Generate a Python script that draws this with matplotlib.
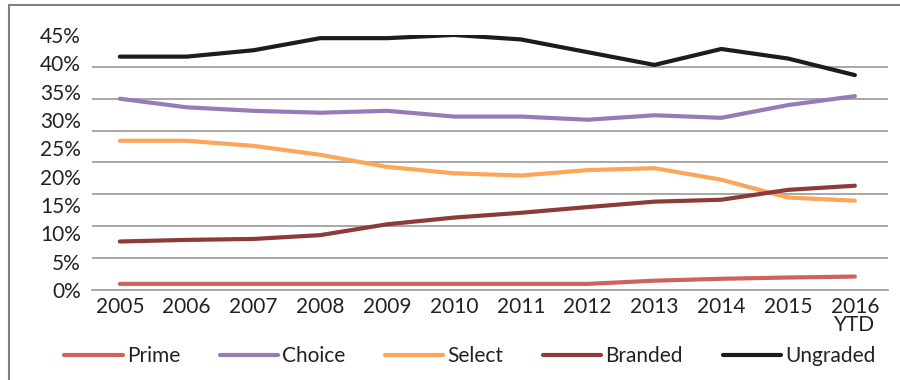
import numpy as np
import matplotlib
matplotlib.use('Agg')
import matplotlib.pyplot as plt
from matplotlib.patches import Rectangle

plt.rcParams['font.family'] = ['Lato', 'DejaVu Sans']

years = ['2005', '2006', '2007', '2008', '2009', '2010', '2011', '2012',
         '2013', '2014', '2015', '2016\nYTD']

# share in %
prime = [0.95, 0.95, 0.95, 0.95, 0.95, 0.95, 0.95, 0.95, 1.45, 1.75, 1.95, 2.1]
choice = [30.0, 28.65, 28.1, 27.8, 28.1, 27.2, 27.2, 26.7, 27.4, 27.0, 29.0, 30.4]
select = [23.4, 23.4, 22.6, 21.2, 19.3, 18.3, 17.95, 18.8, 19.1, 17.3, 14.5, 14.0]
branded = [7.6, 7.85, 8.0, 8.6, 10.3, 11.35, 12.1, 13.0, 13.85, 14.15, 15.7, 16.35]
ungraded = [36.6, 36.6, 37.6, 39.5, 39.5, 40.0, 39.3, 37.3, 35.3, 37.8, 36.3, 33.7]

ylabels = ['0%', '5%', '10%', '15%', '20%', '25%', '30%', '35%', '40%', '45%']

series = [('Prime', prime, '#d0625d'),
          ('Choice', choice, '#977bb7'),
          ('Select', select, '#fba65a'),
          ('Branded', branded, '#8c3b39'),
          ('Ungraded', ungraded, '#1c1c1c')]

fig = plt.figure(figsize=(9, 3.8), dpi=100)
ax = fig.add_axes([0.102, 0.237, 0.885, 0.671])

x = np.arange(len(years))
for name, vals, col in series:
    ax.plot(x, vals, color=col, lw=3, label=name, solid_capstyle='round')

ax.set_xlim(-0.42, 11.5)
ax.set_ylim(0, 40)

# gridlines every 5
ax.set_yticks(np.arange(0, 41, 5), minor=True)
ax.grid(which='minor', axis='y', color='#8f8f8f', lw=1.1)
ax.tick_params(axis='y', which='minor', length=0)

# labels as printed
ax.set_yticks(np.linspace(0, 40, len(ylabels)))
ax.set_yticklabels(ylabels)
ax.tick_params(axis='y', which='major', length=0, pad=8, labelsize=15,
               labelcolor='#222222')

ax.set_xticks(x)
ax.set_xticklabels(years, linespacing=0.9)
ax.tick_params(axis='x', length=0, pad=5, labelsize=15, labelcolor='#222222')

for s in ['top', 'right', 'left']:
    ax.spines[s].set_visible(False)
ax.spines['bottom'].set_color('#8f8f8f')
ax.spines['bottom'].set_linewidth(1.1)
ax.set_axisbelow(True)

fig.legend(loc='center', bbox_to_anchor=(0.522, 0.062), ncol=5, frameon=False,
           fontsize=15, handlelength=2.8, handletextpad=0.2, columnspacing=1.9,
           labelcolor='#222222')

fig.patches.append(Rectangle((0.01, -0.1), 1.1, 1.087, transform=fig.transFigure,
                             fill=False, edgecolor='#808080', lw=1.5))

fig.savefig('out.png', dpi=100)
